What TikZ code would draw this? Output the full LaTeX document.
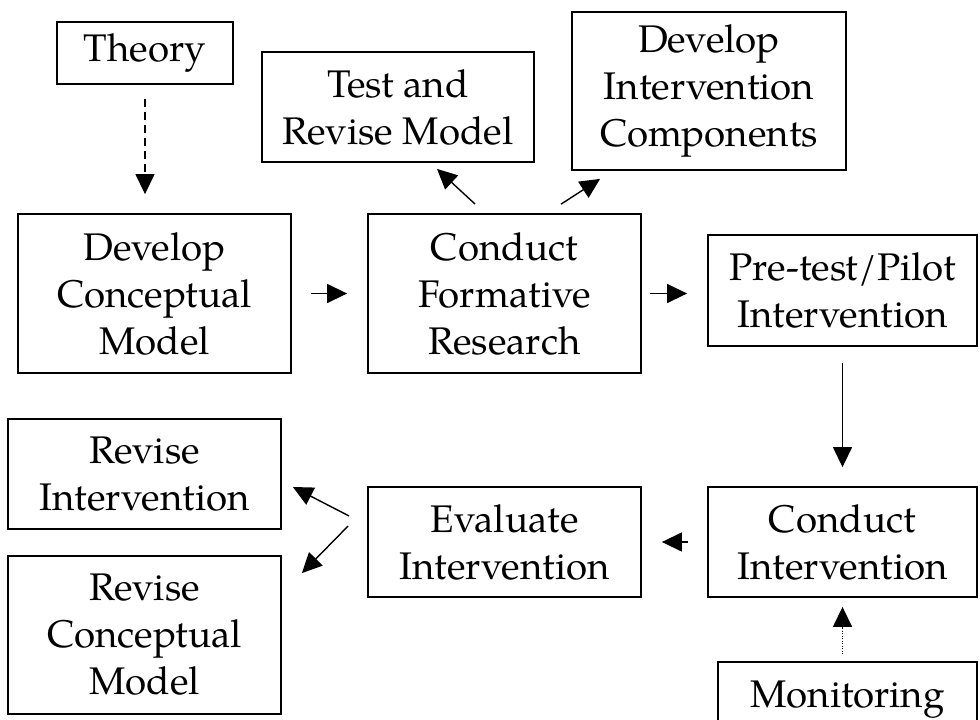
\documentclass[tikz,border=0pt]{standalone}
\usepackage{fontspec}
\setmainfont{TeX Gyre Pagella}
\usetikzlibrary{arrows.meta,calc}
\begin{document}
\begin{tikzpicture}[x=1pt,y=-1pt,
 box/.style={draw, line width=1.8pt, inner sep=0pt, align=center, font=\fontsize{38.5}{47}\selectfont},
 arr/.style={line width=1.4pt, -{Triangle[length=20pt,width=19pt]}},
]
\fill[white] (0,0) rectangle (980,720);
\useasboundingbox (0,0) rectangle (980,720);
% boxes
\node[box, minimum width=176pt, minimum height=62pt] (theory) at (145,53) {Theory};
\node[box, minimum width=272pt, minimum height=110pt] (test) at (398,107) {Test and\\Revise Model};
\node[box, minimum width=274pt, minimum height=158pt] (devint) at (709,91) {Develop\\Intervention\\Components};
\node[box, minimum width=273pt, minimum height=159pt] (devcon) at (154.5,293.5) {Develop\\Conceptual\\Model};
\node[box, minimum width=273pt, minimum height=159pt] (form) at (504.5,293.5) {Conduct\\Formative\\Research};
\node[box, minimum width=269pt, minimum height=111pt] (pre) at (842.5,290.5) {Pre-test/Pilot\\Intervention};
\node[box, minimum width=273pt, minimum height=110pt] (revint) at (144.5,474) {Revise\\Intervention};
\node[box, minimum width=273pt, minimum height=158pt] (revcon) at (144.5,635) {Revise\\Conceptual\\Model};
\node[box, minimum width=273pt, minimum height=110pt] (eval) at (504.5,542) {Evaluate\\Intervention};
\node[box, minimum width=269pt, minimum height=110pt] (condint) at (842.5,542) {Conduct\\Intervention};
\node[box, minimum width=259pt, minimum height=76pt] (monitor) at (847.5,700) {Monitoring};
% connectors
\draw[arr, dash pattern=on 8pt off 5pt, shorten <=14pt, shorten >=19pt] (theory.south) -- (theory.south |- devcon.north);
\draw[arr, shorten <=19pt, shorten >=20pt] (devcon.east) -- (devcon.east -| form.west);
\draw[arr, shorten <=8pt, shorten >=20pt] (form.east) -- (form.east -| pre.west);
\draw[arr] ($(form.north west)+(108,-9)$) -- ($(test.south)+(39,6)$);
\draw[arr] ($(form.north west)+(194,-9)$) -- ($(devint.south west)+(29,8)$);
\draw[arr, shorten <=16pt, shorten >=19pt] (pre.south) -- (pre.south |- condint.north);
\draw[arr, shorten <=19pt, shorten >=20pt] (condint.west) -- (condint.west -| eval.east);
\draw[arr, dash pattern=on 1pt off 1.5pt, shorten <=7pt, shorten >=9pt] (condint.south |- monitor.north) -- (condint.south);
\draw[arr] ($(eval.west)+(-18,-26)$) -- ($(revint.east)+(11,13)$);
\draw[arr] ($(eval.west)+(-19,-16)$) -- ($(revcon.north east)+(20,18)$);
\end{tikzpicture}
\end{document}
